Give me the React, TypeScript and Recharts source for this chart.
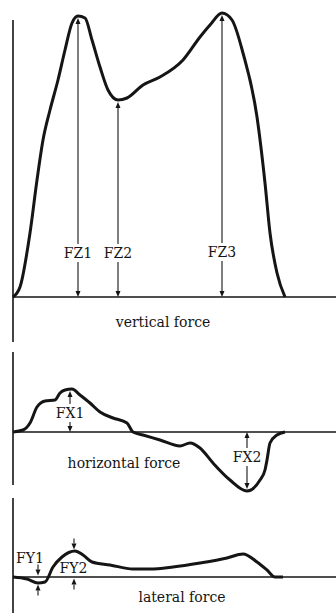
import React from "react";
import { LineChart, Line, XAxis, YAxis, ReferenceLine, ReferenceDot } from "recharts";

const INK = "#151515";
const SERIF = "'DejaVu Serif', serif";

// time since heel strike (arbitrary units), force (arbitrary units, 0 = baseline)
const verticalTime = [0, 7, 17, 24, 30, 37, 45, 52, 59, 65, 72, 79, 87, 95, 105, 114, 130, 147, 170, 187, 197, 209, 219, 230, 244, 252, 257, 264, 272];
const verticalForce = [0, 10, 64, 117, 157, 187, 217, 247, 274, 281, 279, 257, 230, 207, 197, 199, 212, 220, 237, 260, 272, 284, 277, 244, 180, 114, 64, 24, 0];

const horizontalTime = [0, 10, 17, 24, 32, 42, 47, 52, 59, 67, 77, 87, 100, 114, 120, 130, 147, 167, 177, 187, 200, 217, 234, 247, 252, 254, 257, 264, 272];
const horizontalForce = [0, 2, 9, 25, 31, 32, 39, 42, 43, 37, 29, 20, 14, 9, 0, -3, -8, -14, -11, -16, -31, -48, -59, -48, -38, -28, -11, -3, 0];

const lateralTime = [0, 14, 25, 32, 40, 49, 62, 70, 79, 97, 120, 137, 160, 187, 214, 230, 244, 254, 262, 270];
const lateralForce = [0, -2, -6, -5, 10, 20, 26, 22, 15, 12, 8, 8, 10, 14, 19, 23, 15, 7, 0, 0];

// peak markers: time, peak value, height of the label on the arrow
const zMarkers = [
  { name: "FZ1", t: 65, value: 279, labelAt: 44 },
  { name: "FZ2", t: 105, value: 195, labelAt: 44 },
  { name: "FZ3", t: 209, value: 282, labelAt: 45 },
];
const xMarkers = [
  { name: "FX1", t: 57, value: 41, labelAt: 19 },
  { name: "FX2", t: 234, value: -57, labelAt: -25 },
];
const yMarkers = [
  { name: "FY1", t: 25, value: -6, labelT: 17, labelAt: 19 },
  { name: "FY2", t: 61, value: 26, labelT: 60.5, labelAt: 9 },
];

const rows = (ts: number[], vs: number[]) => ts.map((t, i) => ({ t, f: vs[i] }));

const HEAD = 6;
const head = (x: number, tip: number, down: boolean) => {
  const base = down ? tip - HEAD : tip + HEAD;
  return <polygon points={`${x},${tip} ${x - 2.5},${base} ${x + 2.5},${base}`} fill={INK} />;
};

const labelText = (x: number, y: number, text: string) => (
  <text x={x} y={y} textAnchor="middle" dominantBaseline="central" fontFamily={SERIF} fontSize={14} fill={INK}>
    {text}
  </text>
);

// double arrow between baseline and peak, label sitting in a gap of the shaft
const labelledArrow = (text: string, frac: number) => (p: any) => {
  const x = p.x1;
  const ly = p.y1 + (p.y2 - p.y1) * frac;
  const top = Math.min(p.y1, p.y2);
  const bottom = Math.max(p.y1, p.y2);
  return (
    <g>
      <line x1={x} x2={x} y1={top + HEAD} y2={ly - 9} stroke={INK} strokeWidth={1.1} />
      <line x1={x} x2={x} y1={ly + 9} y2={bottom - HEAD} stroke={INK} strokeWidth={1.1} />
      {head(x, top, false)}
      {head(x, bottom, true)}
      {labelText(x, ly, text)}
    </g>
  );
};

// two short arrows pointing inward at baseline and peak
const inwardArrows = (p: any) => {
  const x = p.x1;
  const top = Math.min(p.y1, p.y2) - 1.5;
  const bottom = Math.max(p.y1, p.y2) + 1.5;
  return (
    <g>
      <line x1={x} x2={x} y1={top - 11} y2={top - HEAD} stroke={INK} strokeWidth={1.1} />
      {head(x, top, true)}
      <line x1={x} x2={x} y1={bottom + 11} y2={bottom + HEAD} stroke={INK} strokeWidth={1.1} />
      {head(x, bottom, false)}
    </g>
  );
};

const textShape = (text: string) => (p: any) => labelText(p.cx, p.cy, text);

type PanelProps = {
  data: { t: number; f: number }[];
  height: number;
  top: number;
  bottom: number;
  domain: [number, number];
  axis: [number, number];
  children?: React.ReactNode;
};

function Panel({ data, height, top, bottom, domain, axis, children }: PanelProps) {
  return (
    <LineChart width={336} height={height} data={data} margin={{ top, right: 0, bottom, left: 13 }}>
      <XAxis type="number" dataKey="t" domain={[0, 323]} hide />
      <YAxis type="number" domain={domain} hide />
      <ReferenceLine segment={[{ x: 0, y: axis[0] }, { x: 0, y: axis[1] }]} stroke={INK} strokeWidth={1.6} />
      <ReferenceLine y={0} stroke={INK} strokeWidth={1.4} />
      <Line
        type="monotone"
        dataKey="f"
        stroke={INK}
        strokeWidth={3}
        dot={false}
        strokeLinejoin="round"
        isAnimationActive={false}
      />
      {children}
    </LineChart>
  );
}

export default function App() {
  return (
    <div style={{ position: "absolute", left: 0, top: 0, width: 336, height: 613, background: "#fff" }}>
      <Panel data={rows(verticalTime, verticalForce)} height={346} top={10} bottom={4} domain={[-45, 287]} axis={[-45, 277]}>
        {zMarkers.map((m) => (
          <ReferenceLine
            key={m.name}
            segment={[{ x: m.t, y: 0 }, { x: m.t, y: m.value }]}
            shape={labelledArrow(m.name, m.labelAt / m.value)}
          />
        ))}
        <ReferenceDot x={150} y={-25} r={0} shape={textShape("vertical force")} />
      </Panel>
      <Panel data={rows(horizontalTime, horizontalForce)} height={150} top={4} bottom={2} domain={[-62, 82]} axis={[-53, 80]}>
        {xMarkers.map((m) => (
          <ReferenceLine
            key={m.name}
            segment={[{ x: m.t, y: 0 }, { x: m.t, y: m.value }]}
            shape={labelledArrow(m.name, m.labelAt / m.value)}
          />
        ))}
        <ReferenceDot x={111} y={-31} r={0} shape={textShape("horizontal force")} />
      </Panel>
      <Panel data={rows(lateralTime, lateralForce)} height={117} top={0} bottom={0} domain={[-36, 81]} axis={[-36, 79]}>
        {yMarkers.map((m) => (
          <ReferenceLine key={m.name} segment={[{ x: m.t, y: 0 }, { x: m.t, y: m.value }]} shape={inwardArrows} />
        ))}
        {yMarkers.map((m) => (
          <ReferenceDot key={m.name + "-label"} x={m.labelT} y={m.labelAt} r={0} shape={textShape(m.name)} />
        ))}
        <ReferenceDot x={169} y={-20} r={0} shape={textShape("lateral force")} />
      </Panel>
    </div>
  );
}
